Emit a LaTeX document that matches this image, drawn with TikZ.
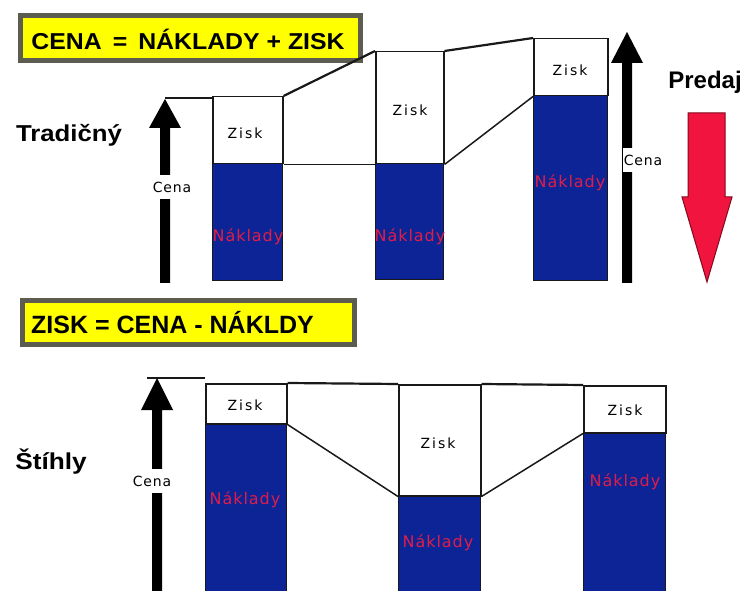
\documentclass[tikz,border=0pt]{standalone}
\usepackage{fontspec}
\usepackage{graphicx}
\setmainfont{Liberation Sans}
\newfontfamily\lblfont[LetterSpace=14]{DejaVu Sans}
\newfontfamily\costfont[LetterSpace=6]{DejaVu Sans}

\definecolor{costblue}{RGB}{12,36,150}
\definecolor{costred}{RGB}{222,30,72}
\definecolor{boxyellow}{RGB}{255,255,0}
\definecolor{boxframe}{RGB}{92,92,80}
\definecolor{arrowred}{RGB}{240,20,62}
\definecolor{arrowedge}{RGB}{130,10,30}

\tikzset{
  profitbox/.style={draw=black!90, line width=1.5pt, fill=white, rectangle,
    inner sep=0pt, anchor=north west},
  costbox/.style={draw=black!90, line width=1.2pt, fill=costblue, rectangle,
    inner sep=0pt, anchor=north west},
  link/.style={draw=black!90, line width=1.5pt},
  profitlbl/.style={font=\lblfont\fontsize{14}{16}\selectfont, text=black, inner sep=0pt},
  costlbl/.style={font=\costfont\fontsize{16}{18}\selectfont, text=costred, inner sep=0pt},
  pricelbl/.style={font=\costfont\fontsize{14}{16}\selectfont, fill=white,
    inner xsep=1pt, inner ysep=7pt},
  formula/.style={draw=boxframe, line width=5pt, fill=boxyellow},
  bigtitle/.style={font=\bfseries\fontsize{23}{27}\selectfont, inner sep=0pt},
  uparrow/.style={fill=black}
}

\begin{document}
\begin{tikzpicture}[x=1pt, y=-1pt]
\useasboundingbox (0,0) rectangle (748,591);
\fill[white] (0,0) rectangle (748,591);

% ---------- formula banners ----------
\draw[formula] (20.5,15.5) rectangle (360.5,60.5);
\node[bigtitle] (f1) at (188,39) {\scalebox{1.08}[1]{CENA \,=\, NÁKLADY + ZISK}};
\draw[formula] (22.5,300.5) rectangle (354.5,344.5);
\node[bigtitle, anchor=west, font=\bfseries\fontsize{25}{29}\selectfont] (f2) at (31,323) {ZISK = CENA - NÁKLDY};

% ---------- traditional pricing ----------
\node[bigtitle] (trad) at (69,135) {\scalebox{1.12}[1]{Tradičný}};

% price arrow, left
\fill[uparrow] (160,283) -- (160,128) -- (149,128) -- (165,99) -- (181,128) -- (170,128) -- (170,283) -- cycle;
\coordinate (tipL) at (165,98);
\node[pricelbl] (cenaL) at (172,187) {Cena};

% bars
\node[costbox, minimum width=70pt, minimum height=117pt] (n1) at (212,163) {};
\node[profitbox, minimum width=70pt, minimum height=67pt] (z1) at (212,96) {};
\node[costbox, minimum width=68pt, minimum height=116pt] (n2) at (375,163) {};
\node[profitbox, minimum width=68pt, minimum height=112pt] (z2) at (375,51) {};
\node[costbox, minimum width=74pt, minimum height=185pt] (n3) at (533,95) {};
\node[profitbox, minimum width=74pt, minimum height=57pt] (z3) at (533,38) {};

\node[profitlbl] (zl1) at (245,133) {Zisk};
\node[profitlbl] (zl2) at (410,110) {Zisk};
\node[profitlbl] (zl3) at (570,70) {Zisk};
\node[costlbl] (nl1) at (248,237) {Náklady};
\node[costlbl] (nl2) at (410,237) {Náklady};
\node[costlbl] (nl3) at (570,183) {Náklady};

% connectors
\draw[link] (tipL) -- (tipL -| z1.west);
\draw[link, line width=2.2pt] (z1.north east) -- (z2.north west);
\draw[link] (z1.south east) -- (z2.south west);
\draw[link, line width=2.2pt] (z2.north east) -- (z3.north west);
\draw[link] (z2.south east) -- (z3.south west);

% price arrow, right
\fill[uparrow] (622,283) -- (622,63) -- (611,63) -- (627,32) -- (643,63) -- (632,63) -- (632,283) -- cycle;
\node[pricelbl] (cenaR) at (643,160) {Cena};

% sales
\node[bigtitle, font=\bfseries\fontsize{24}{28}\selectfont] (sales) at (705,82) {Predaj};
\filldraw[fill=arrowred, draw=arrowedge, line width=1pt]
  (688,113) -- (725,113) -- (725,197) -- (732,197) -- (707,282) -- (682,197) -- (688,197) -- cycle;

% ---------- lean pricing ----------
\node[bigtitle] (lean) at (51,462) {\scalebox{1.14}[1]{Štíhly}};

\fill[uparrow] (152,591) -- (152,410) -- (141,410) -- (157,378) -- (173,410) -- (162,410) -- (162,591) -- cycle;
\coordinate (tipB) at (147,378);
\node[pricelbl] (cenaB) at (152,481) {Cena};

\node[costbox, minimum width=81pt, minimum height=168pt] (nA) at (205,423) {};
\node[profitbox, minimum width=81pt, minimum height=40pt] (zA) at (205,383) {};
\node[costbox, minimum width=82pt, minimum height=96pt] (nB) at (398,495) {};
\node[profitbox, minimum width=82pt, minimum height=111pt] (zB) at (398,384) {};
\node[costbox, minimum width=82pt, minimum height=159pt] (nC) at (583,432) {};
\node[profitbox, minimum width=82pt, minimum height=47pt] (zC) at (583,385) {};

\node[profitlbl] (zlA) at (245,405) {Zisk};
\node[profitlbl] (zlB) at (438,443) {Zisk};
\node[profitlbl] (zlC) at (625,410) {Zisk};
\node[costlbl] (nlA) at (245,500) {Náklady};
\node[costlbl] (nlB) at (438,543) {Náklady};
\node[costlbl] (nlC) at (625,482) {Náklady};

\draw[link] (tipB) -- (tipB -| zA.west);
\draw[link, line width=2.2pt] (zA.north east) -- (zB.north west);
\draw[link] (zA.south east) -- (zB.south west);
\draw[link, line width=2.2pt] (zB.north east) -- (zC.north west);
\draw[link] (zB.south east) -- (zC.south west);
\end{tikzpicture}
\end{document}
